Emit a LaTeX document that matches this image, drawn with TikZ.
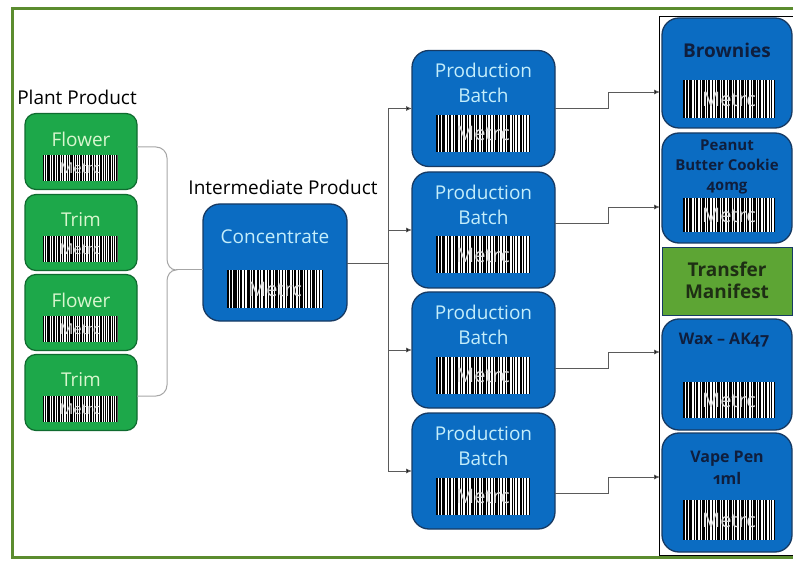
\documentclass[tikz,border=0pt]{standalone}
\usepackage{fontspec}
\setmainfont{Open Sans}
\usetikzlibrary{arrows.meta,calc}
\definecolor{frameG}{HTML}{5B8C2F}
\definecolor{gFill}{HTML}{1DA84A}
\definecolor{gBorder}{HTML}{0F6B2F}
\definecolor{gText}{HTML}{D9F7CF}
\definecolor{bFill}{HTML}{0B6CC2}
\definecolor{bBorder}{HTML}{173A63}
\definecolor{bText}{HTML}{C4EEFB}
\definecolor{rText}{HTML}{0F1E3D}
\definecolor{tFill}{HTML}{5DA534}
\definecolor{tText}{HTML}{1E2E14}
\definecolor{lineG}{HTML}{5A5A5A}
\newcommand{\fs}[1]{\fontsize{#1}{#1}\selectfont}
\begin{document}
\begin{tikzpicture}[x=1pt,y=-1pt,
  every node/.style={inner sep=0pt,outer sep=0pt},
  gbox/.style={draw=gBorder,fill=gFill,line width=1.2pt,rounded corners=11pt,minimum width=112pt,minimum height=76pt},
  gtext/.style={text=gText,font=\fs{19}},
  bbox/.style={draw=bBorder,fill=bFill,line width=1.3pt,rounded corners=17pt,minimum width=143pt,minimum height=116pt},
  btext/.style={text=bText,font=\fs{19},align=center},
  rbox/.style={draw=bBorder,fill=bFill,line width=1.3pt,rounded corners=17pt,minimum width=130pt},
  rtext/.style={text=rText,font=\bfseries\fs{#1},align=center},
  lbl/.style={text=black,font=\fs{19}},
  bc/.style 2 args={fill=white,minimum width=#1pt,minimum height=#2pt,text=gray!25,
    path picture={
      \foreach \a/\b in {0/0.02,0.035/0.05,0.065/0.1,0.115/0.125,0.14/0.16,0.18/0.19,0.205/0.235,0.25/0.26,0.275/0.29,0.31/0.33,0.345/0.355,0.37/0.4,0.415/0.425,0.44/0.455,0.475/0.485,0.5/0.53,0.545/0.555,0.57/0.585,0.605/0.615,0.63/0.66,0.675/0.685,0.7/0.715,0.735/0.745,0.76/0.79,0.805/0.815,0.83/0.845,0.865/0.875,0.89/0.915,0.93/0.94,0.955/0.97,0.985/1}
        \fill[black] ($(path picture bounding box.south west)!\a!(path picture bounding box.south east)$) rectangle ($(path picture bounding box.north west)!\b!(path picture bounding box.north east)$);
    }},
  conn/.style={draw=lineG,line width=0.9pt},
  arr/.style={conn,-{Latex[length=6pt,width=5pt,fill=black]}},
  brace/.style={draw=gray!70,line width=1pt}
]
\useasboundingbox (0,0) rectangle (793,564);
\begin{scope}
\clip (0,0) rectangle (793,564);
% outer frame
\draw[frameG,line width=3pt] (830,9) -- (12,9) -- (12,557) -- (830,557);
% right column frame
\draw[black,line width=0.8pt] (659,16) rectangle (830,555);

% plant products
\node[lbl] (plant) at (77,97) {Plant Product};
\node[gbox] (f1) at (81,151.5) {};
\node[gtext] (f1t) at (81,139) {Flower};
\node[bc={75}{26},font=\fs{15}] (f1b) at (80,168) {Metrc};
\node[gbox] (t1) at (81,232.5) {};
\node[gtext] (t1t) at (81,220) {Trim};
\node[bc={75}{26},font=\fs{15}] (t1b) at (80,249) {Metrc};
\node[gbox] (f2) at (81,312.5) {};
\node[gtext] (f2t) at (81,300) {Flower};
\node[bc={75}{26},font=\fs{15}] (f2b) at (80,329) {Metrc};
\node[gbox] (t2) at (81,392.5) {};
\node[gtext] (t2t) at (81,380) {Trim};
\node[bc={75}{26},font=\fs{15}] (t2b) at (80,409) {Metrc};

% intermediate
\node[lbl] (inter) at (283,187) {Intermediate Product};
\node[bbox,minimum width=144pt,minimum height=117pt] (conc) at (275,262.5) {};
\node[btext] (conct) at (275,237) {Concentrate};
\node[bc={96}{38},font=\fs{20}] (concb) at (275,289) {Metrc};

% brace
\coordinate (btip) at (176,270);
\draw[brace] (137,147) -- (156,147) to[out=0,in=90] (167,158) -- (167,259) to[out=-90,in=180] (btip)
  to[out=180,in=90] (167,281) -- (167,385) to[out=-90,in=0] (156,396) -- (137,396);
\draw[brace] (btip) -- (conc.west |- btip);

% production batches
\foreach \n/\yy in {1/108.5,2/230,3/350,4/471}{
  \node[bbox] (pb\n) at (483.5,\yy) {};
  \node[btext] (pb\n t) at (483.5,\yy-38) {Production};
  \node[btext] (pb\n u) at (483.5,\yy-13) {Batch};
  \node[bc={94}{37},font=\fs{20}] (pb\n b) at (483,\yy+25) {Metrc};
}

% trunk
\coordinate (trunk) at (388,263);
\draw[conn] (conc.east |- trunk) -- (trunk);
\foreach \n in {1,2,3,4}{\draw[arr] (trunk) |- (pb\n.west);}

% right column
\node[rbox,minimum height=110pt] (brow) at (727,73) {};
\node[rtext=19] (browt) at (727,50) {Brownies};
\node[bc={92}{38},font=\fs{20}] (browb) at (729,99) {Metrc};

\node[rbox,minimum height=110pt] (pean) at (727,188) {};
\node[rtext=15,font=\bfseries\fs{15}] (peant) at (727,167) {Peanut\\[5pt]Butter Cookie\\[5pt]{\addfontfeatures{Numbers=OldStyle}40mg}};
\node[bc={92}{34},font=\fs{20}] (peanb) at (729,215) {Metrc};

\node[draw=bBorder,line width=0.6pt,fill=tFill,minimum width=130pt,minimum height=68pt] (tm) at (727,281.5) {};
\node[rtext=19,text=tText,font=\bfseries\fs{19}] (tmt) at (727,280) {Transfer\\[3pt]Manifest};

\node[rbox,minimum height=111pt] (wax) at (727,374.5) {};
\node[rtext=16,font=\bfseries\fs{16}] (waxt) at (724,340) {Wax -- AK{\addfontfeatures{Numbers=OldStyle}47}};
\node[bc={92}{36},font=\fs{20}] (waxb) at (729,400) {Metrc};

\node[rbox,minimum height=119pt] (vape) at (727,492.5) {};
\node[rtext=16,font=\bfseries\fs{16}] (vapet) at (727,468) {Vape Pen\\[6pt]{\addfontfeatures{Numbers=OldStyle}1ml}};
\node[bc={92}{40},font=\fs{20}] (vapeb) at (729,520) {Metrc};

% outputs
\draw[arr] ([yshift=0pt]pb1.east) -- ++(53,0) |- ([xshift=-2pt,yshift=-19pt]brow.west);
\draw[arr] ([yshift=7pt]pb2.east) -- ++(53,0) |- ([xshift=-2pt,yshift=-19pt]pean.west);
\draw[arr] ([yshift=-18pt]pb3.east) -- ++(53,0) |- ([xshift=-2pt,yshift=22.5pt]wax.west);
\draw[arr] ([yshift=-22pt]pb4.east) -- ++(53,0) |- ([xshift=-2pt,yshift=15.5pt]vape.west);
\end{scope}
\end{tikzpicture}
\end{document}
